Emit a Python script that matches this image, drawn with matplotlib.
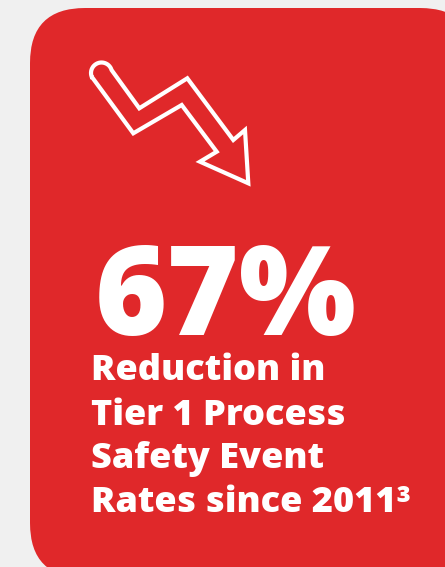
import numpy as np
import matplotlib
matplotlib.use('Agg')
import matplotlib.pyplot as plt
from matplotlib.patches import FancyBboxPatch, PathPatch
from matplotlib.path import Path

# 카드 내용
headline_value = 67
headline_unit = "%"
caption_lines = ["Reduction in", "Tier 1 Process", "Safety Event", "Rates since 2011\u00b3"]

BG = "#f0f0f0"
RED = "#e0282a"
W, H = 445, 567

fig = plt.figure(figsize=(W / 100, H / 100), dpi=100, facecolor=BG)
ax = fig.add_axes([0, 0, 1, 1])
ax.set_xlim(0, W)
ax.set_ylim(H, 0)
ax.axis('off')

# 빨간 카드 (오른쪽/아래는 잘려 있음)
card = FancyBboxPatch((30, 8), 445, 570, boxstyle="round,pad=0,rounding_size=55",
                      facecolor=RED, edgecolor='none')
ax.add_patch(card)

# 하락 화살표 아이콘 (외곽선만)
cap_c = np.array([101.5, 73.0])
a0 = np.arctan2(76.7 - cap_c[1], 91.7 - cap_c[0])
a1 = np.arctan2(70.0 - cap_c[1], 111.7 - cap_c[0])
if a1 < a0:
    a1 += 2 * np.pi
angs = np.linspace(a0, a1, 24)
r = 10.5
cap = [(cap_c[0] + r * np.cos(a), cap_c[1] + r * np.sin(a)) for a in angs]
body = [(139.3, 108.3), (187.3, 78.3), (233.3, 140.0), (245.0, 130.0),
        (248.3, 183.3), (200.0, 161.7), (216.7, 151.7), (181.7, 105.0),
        (133.3, 133.3), (91.7, 76.7)]
verts = cap + body
arrow = PathPatch(Path(verts + [verts[0]], closed=True), facecolor='none',
                  edgecolor='white', linewidth=3.0, joinstyle='miter')
ax.add_patch(arrow)

font = ['Open Sans', 'DejaVu Sans']
ax.text(95, 335, f"{headline_value}{headline_unit}", color='white', fontsize=89,
        fontweight='heavy', family=font, ha='left', va='baseline')

baselines = [380, 425, 468, 512]
for line, y in zip(caption_lines, baselines):
    ax.text(91, y, line, color='white', fontsize=26, fontweight='heavy',
            family=font, ha='left', va='baseline')

fig.savefig('out.png', dpi=100, facecolor=BG)
